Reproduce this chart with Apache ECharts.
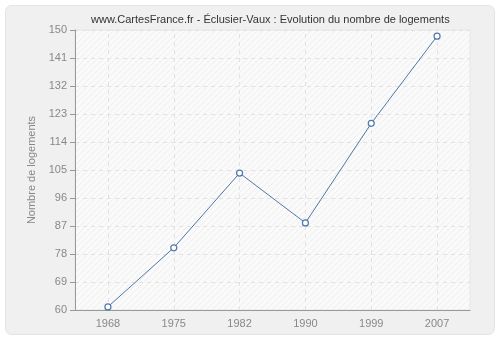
<!DOCTYPE html>
<html><head><meta charset="utf-8">
<script src="https://cdn.jsdelivr.net/npm/echarts@6/dist/echarts.min.js"></script>
<style>html,body{margin:0;padding:0;background:#fff}#c{width:500px;height:340px}</style>
</head><body><div id="c"></div>
<script>
const titleText = "www.CartesFrance.fr - Éclusier-Vaux : Evolution du nombre de logements";
const yAxisName = "Nombre de logements";
const years = ["1968", "1975", "1982", "1990", "1999", "2007"];
const logements = [61, 80, 104, 88, 120, 148];
const yMin = 60, yMax = 150, yStep = 9;

const pc = document.createElement('canvas');
pc.width = 6; pc.height = 6;
const px = pc.getContext('2d');
px.fillStyle = '#fafafa'; px.fillRect(0,0,6,6);
px.strokeStyle = '#eeeeee'; px.lineWidth = 1;
px.beginPath(); px.moveTo(0,6); px.lineTo(6,0); px.stroke();
px.beginPath(); px.moveTo(-1,1); px.lineTo(1,-1); px.stroke();
px.beginPath(); px.moveTo(5,7); px.lineTo(7,5); px.stroke();

const chart = echarts.init(document.getElementById('c'), null, {renderer:'canvas'});
const font = 'Liberation Sans, Arial, sans-serif';
chart.setOption({
  animation: false,
  graphic: [{type:'rect', shape:{x:5.5,y:5.5,width:489,height:329,r:6}, style:{fill:'#f0f0f0', stroke:'#e4e4e4', lineWidth:1}, z:-10}],
  title: {text: titleText, left: 86, top: 9, textStyle:{fontFamily:font, fontSize:11, fontWeight:'normal', color:'#333'}},
  grid: {left:75, right:30, top:30, bottom:30, show:true, backgroundColor:{image:pc, repeat:'repeat'}, borderColor:'#e6e6e6', borderWidth:1},
  xAxis: {type:'category', data: years, boundaryGap:true,
    axisLine:{lineStyle:{color:'#999'}}, axisTick:{alignWithLabel:true, length:5, lineStyle:{color:'#999'}},
    axisLabel:{color:'#888', fontFamily:font, fontSize:11, margin:8},
    splitLine:{show:false}},
  yAxis: {type:'value', min:yMin, max:yMax, interval:yStep, name: yAxisName, nameLocation:'middle', nameGap:27,
    nameTextStyle:{color:'#888', fontFamily:font, fontSize:11},
    axisLine:{show:true, lineStyle:{color:'#999'}}, axisTick:{show:true, length:5, lineStyle:{color:'#999'}},
    axisLabel:{color:'#888', fontFamily:font, fontSize:11, margin:8},
    splitLine:{show:true, lineStyle:{color:'#e2e2e2', type:[4,4]}}},
  series: [{type:'line', data: logements, symbol:'circle', symbolSize:6, showSymbol:true,
    lineStyle:{color:'#4f77aa', width:1}, itemStyle:{color:'#fff', borderColor:'#4f77aa', borderWidth:1.2},
    markLine:{silent:true, symbol:'none', label:{show:false}, z:1,
      lineStyle:{color:'#e2e2e2', type:[4,4], width:1},
      emphasis:{disabled:true},
      data: years.map(y => ({xAxis: y}))}}]
});
</script></body></html>
